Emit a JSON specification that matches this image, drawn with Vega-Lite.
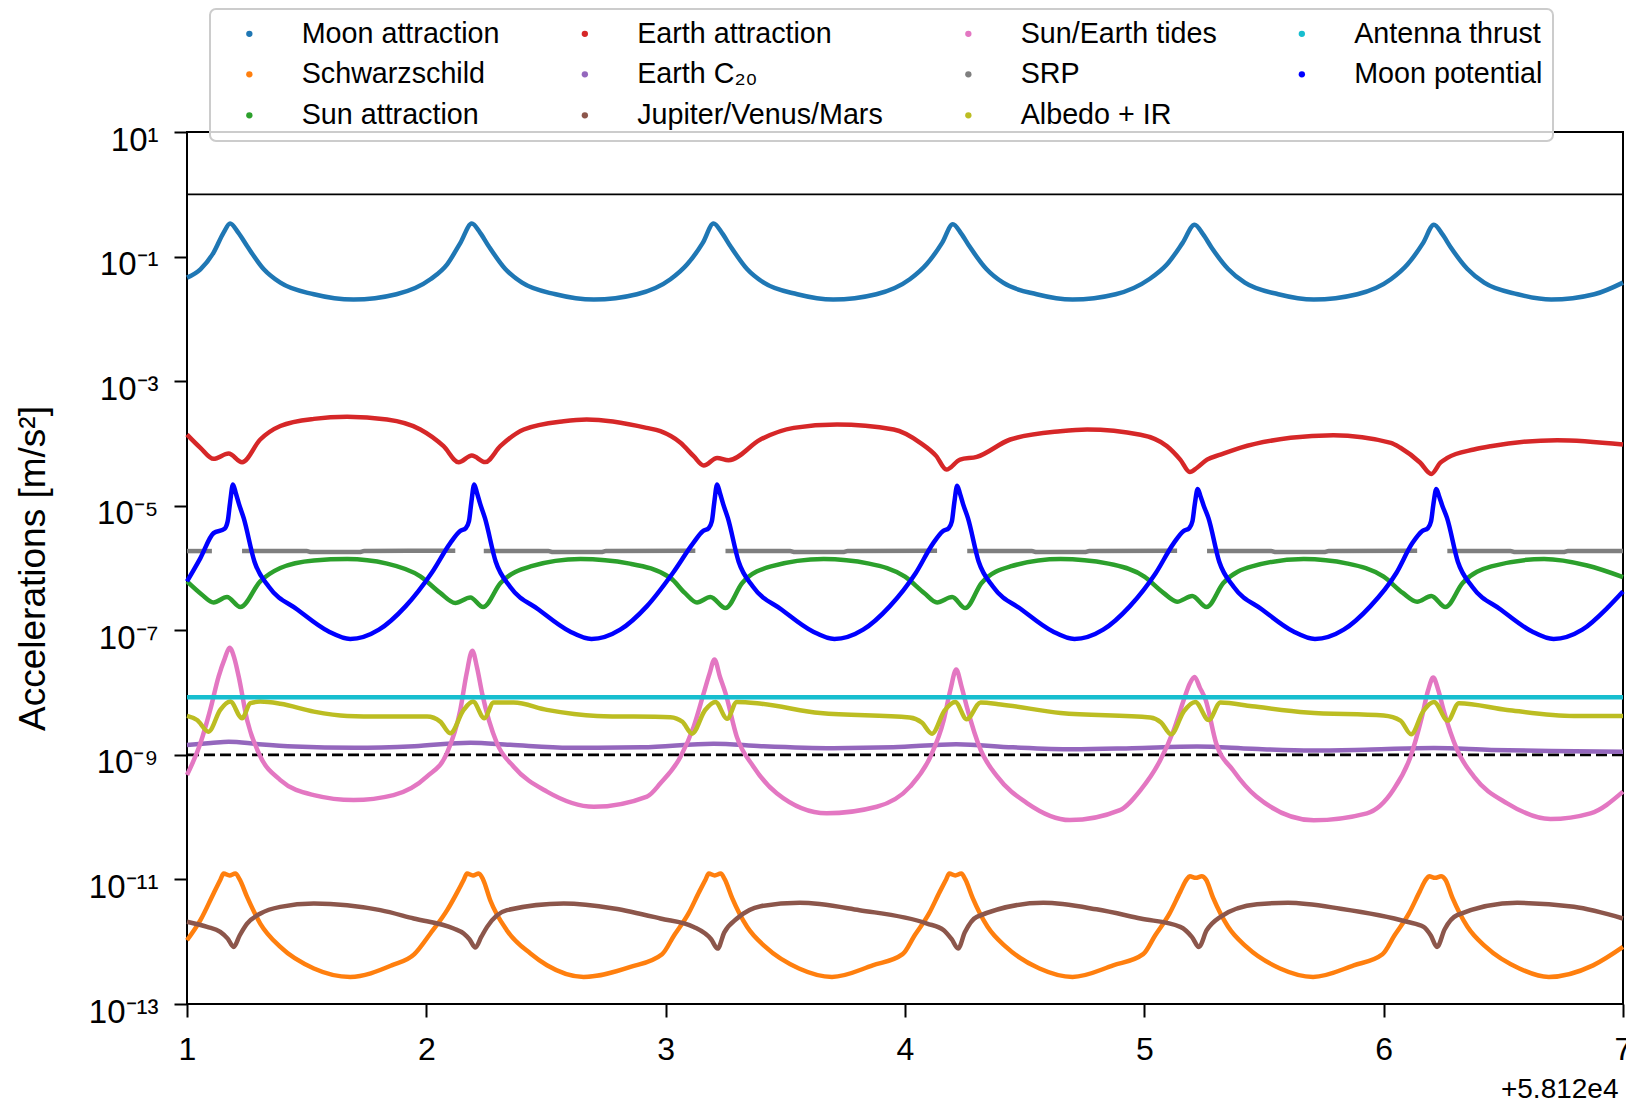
{
"$schema": "https://vega.github.io/schema/vega-lite/v6.json",
"width": 1436, "height": 872,
"autosize": {"type": "none"},
"padding": {"left": 187, "top": 132, "right": 3, "bottom": 100},
"background": "white",
"config": {"view": {"stroke": "black", "strokeWidth": 2}, "font": "Liberation Sans"},
"encoding": {
  "y": {"field": "y", "type": "quantitative",
    "scale": {"type": "log", "domain": [1e-13, 10], "nice": false},
    "axis": {"values": [10, 0.1, 0.001, 1e-5, 1e-7, 1e-9, 1e-11, 1e-13],
      "labelExpr": "['10⁻¹³','','10⁻¹¹','','10⁻⁹','','10⁻⁷','','10⁻⁵','','10⁻³','','10⁻¹','','10¹'][round(log(datum.value)/LN10)+13]",
      "title": "Accelerations [m/s²]", "titleFontSize": 37, "titleFontWeight": "normal", "titleColor": "black",
      "titleX": -143, "titleY": 436, "titleBaseline": "alphabetic", "titleAlign": "center", "titleAngle": -90,
      "labelFontSize": 33, "labelColor": "black", "labelBaseline": "alphabetic", "labelOffset": 18, "labelPadding": 16,
      "labelOverlap": false, "tickSize": 13, "tickWidth": 2, "tickColor": "black", "domain": false, "grid": false}}
},
"layer": [
  {"data": {"values": [{"y": 1}]}, "mark": {"type": "rule", "color": "black", "strokeWidth": 1.8}, "encoding": {}},
  {"data": {"values": [{"y": 1e-9}]}, "mark": {"type": "rule", "color": "black", "strokeWidth": 2.8, "strokeDash": [11, 5]}, "encoding": {}},
  {"data": {"values": [
{"s":"Moon attraction","x":1.0,"y":4.59e-2},{"s":"Moon attraction","x":1.056,"y":6.25e-2},{"s":"Moon attraction","x":1.111,"y":1.159e-1},{"s":"Moon attraction","x":1.153,"y":2.43e-1},{"s":"Moon attraction","x":1.18,"y":3.39e-1},{"s":"Moon attraction","x":1.215,"y":2.40e-1},{"s":"Moon attraction","x":1.251,"y":1.479e-1},{"s":"Moon attraction","x":1.32,"y":6.31e-2},{"s":"Moon attraction","x":1.39,"y":3.80e-2},{"s":"Moon attraction","x":1.53,"y":2.48e-2},{"s":"Moon attraction","x":1.696,"y":2.04e-2},{"s":"Moon attraction","x":1.875,"y":2.48e-2},{"s":"Moon attraction","x":2.017,"y":4.32e-2},{"s":"Moon attraction","x":2.087,"y":7.52e-2},{"s":"Moon attraction","x":2.143,"y":1.679e-1},{"s":"Moon attraction","x":2.19,"y":3.39e-1},{"s":"Moon attraction","x":2.225,"y":2.40e-1},{"s":"Moon attraction","x":2.26,"y":1.479e-1},{"s":"Moon attraction","x":2.33,"y":6.31e-2},{"s":"Moon attraction","x":2.40,"y":3.80e-2},{"s":"Moon attraction","x":2.54,"y":2.48e-2},{"s":"Moon attraction","x":2.70,"y":2.04e-2},{"s":"Moon attraction","x":2.88,"y":2.48e-2},{"s":"Moon attraction","x":3.02,"y":4.32e-2},{"s":"Moon attraction","x":3.09,"y":7.52e-2},{"s":"Moon attraction","x":3.155,"y":1.66e-1},{"s":"Moon attraction","x":3.20,"y":3.39e-1},{"s":"Moon attraction","x":3.235,"y":2.40e-1},{"s":"Moon attraction","x":3.27,"y":1.479e-1},{"s":"Moon attraction","x":3.34,"y":6.31e-2},{"s":"Moon attraction","x":3.41,"y":3.80e-2},{"s":"Moon attraction","x":3.55,"y":2.48e-2},{"s":"Moon attraction","x":3.70,"y":2.04e-2},{"s":"Moon attraction","x":3.88,"y":2.48e-2},{"s":"Moon attraction","x":4.02,"y":4.32e-2},{"s":"Moon attraction","x":4.09,"y":7.52e-2},{"s":"Moon attraction","x":4.155,"y":1.66e-1},{"s":"Moon attraction","x":4.20,"y":3.31e-1},{"s":"Moon attraction","x":4.235,"y":2.34e-1},{"s":"Moon attraction","x":4.27,"y":1.445e-1},{"s":"Moon attraction","x":4.34,"y":6.31e-2},{"s":"Moon attraction","x":4.41,"y":3.80e-2},{"s":"Moon attraction","x":4.55,"y":2.48e-2},{"s":"Moon attraction","x":4.70,"y":2.04e-2},{"s":"Moon attraction","x":4.88,"y":2.48e-2},{"s":"Moon attraction","x":5.02,"y":4.32e-2},{"s":"Moon attraction","x":5.095,"y":7.52e-2},{"s":"Moon attraction","x":5.16,"y":1.66e-1},{"s":"Moon attraction","x":5.21,"y":3.24e-1},{"s":"Moon attraction","x":5.245,"y":2.29e-1},{"s":"Moon attraction","x":5.28,"y":1.413e-1},{"s":"Moon attraction","x":5.35,"y":6.31e-2},{"s":"Moon attraction","x":5.42,"y":3.80e-2},{"s":"Moon attraction","x":5.56,"y":2.48e-2},{"s":"Moon attraction","x":5.708,"y":2.04e-2},{"s":"Moon attraction","x":5.89,"y":2.48e-2},{"s":"Moon attraction","x":6.03,"y":4.32e-2},{"s":"Moon attraction","x":6.10,"y":7.52e-2},{"s":"Moon attraction","x":6.165,"y":1.66e-1},{"s":"Moon attraction","x":6.21,"y":3.24e-1},{"s":"Moon attraction","x":6.245,"y":2.29e-1},{"s":"Moon attraction","x":6.28,"y":1.413e-1},{"s":"Moon attraction","x":6.35,"y":6.31e-2},{"s":"Moon attraction","x":6.42,"y":3.80e-2},{"s":"Moon attraction","x":6.56,"y":2.48e-2},{"s":"Moon attraction","x":6.70,"y":2.04e-2},{"s":"Moon attraction","x":6.88,"y":2.48e-2},{"s":"Moon attraction","x":7.0,"y":3.82e-2},
{"s":"Schwarzschild","x":1.0,"y":1.057e-12},{"s":"Schwarzschild","x":1.056,"y":2.22e-12},{"s":"Schwarzschild","x":1.111,"y":5.96e-12},{"s":"Schwarzschild","x":1.14,"y":1.0e-11},{"s":"Schwarzschild","x":1.153,"y":1.245e-11},{"s":"Schwarzschild","x":1.178,"y":1.161e-11},{"s":"Schwarzschild","x":1.202,"y":1.245e-11},{"s":"Schwarzschild","x":1.22,"y":1.0e-11},{"s":"Schwarzschild","x":1.251,"y":5.25e-12},{"s":"Schwarzschild","x":1.306,"y":1.959e-12},{"s":"Schwarzschild","x":1.39,"y":8.24e-13},{"s":"Schwarzschild","x":1.53,"y":3.72e-13},{"s":"Schwarzschild","x":1.682,"y":2.72e-13},{"s":"Schwarzschild","x":1.855,"y":4.17e-13},{"s":"Schwarzschild","x":1.95,"y":6.31e-13},{"s":"Schwarzschild","x":2.017,"y":1.355e-12},{"s":"Schwarzschild","x":2.087,"y":3.21e-12},{"s":"Schwarzschild","x":2.13,"y":6.31e-12},{"s":"Schwarzschild","x":2.157,"y":1.0e-11},{"s":"Schwarzschild","x":2.17,"y":1.245e-11},{"s":"Schwarzschild","x":2.195,"y":1.161e-11},{"s":"Schwarzschild","x":2.219,"y":1.245e-11},{"s":"Schwarzschild","x":2.237,"y":1.0e-11},{"s":"Schwarzschild","x":2.267,"y":4.64e-12},{"s":"Schwarzschild","x":2.336,"y":1.531e-12},{"s":"Schwarzschild","x":2.435,"y":6.46e-13},{"s":"Schwarzschild","x":2.504,"y":4.19e-13},{"s":"Schwarzschild","x":2.657,"y":2.72e-13},{"s":"Schwarzschild","x":2.853,"y":3.94e-13},{"s":"Schwarzschild","x":2.985,"y":6.31e-13},{"s":"Schwarzschild","x":3.035,"y":1.259e-12},{"s":"Schwarzschild","x":3.095,"y":2.82e-12},{"s":"Schwarzschild","x":3.14,"y":6.31e-12},{"s":"Schwarzschild","x":3.167,"y":1.0e-11},{"s":"Schwarzschild","x":3.18,"y":1.245e-11},{"s":"Schwarzschild","x":3.205,"y":1.161e-11},{"s":"Schwarzschild","x":3.23,"y":1.245e-11},{"s":"Schwarzschild","x":3.247,"y":1.0e-11},{"s":"Schwarzschild","x":3.278,"y":5.01e-12},{"s":"Schwarzschild","x":3.34,"y":1.738e-12},{"s":"Schwarzschild","x":3.417,"y":8.24e-13},{"s":"Schwarzschild","x":3.557,"y":3.72e-13},{"s":"Schwarzschild","x":3.695,"y":2.72e-13},{"s":"Schwarzschild","x":3.865,"y":4.17e-13},{"s":"Schwarzschild","x":3.99,"y":6.31e-13},{"s":"Schwarzschild","x":4.04,"y":1.259e-12},{"s":"Schwarzschild","x":4.10,"y":2.82e-12},{"s":"Schwarzschild","x":4.145,"y":6.31e-12},{"s":"Schwarzschild","x":4.172,"y":1.0e-11},{"s":"Schwarzschild","x":4.185,"y":1.245e-11},{"s":"Schwarzschild","x":4.21,"y":1.161e-11},{"s":"Schwarzschild","x":4.235,"y":1.245e-11},{"s":"Schwarzschild","x":4.252,"y":1.0e-11},{"s":"Schwarzschild","x":4.283,"y":5.01e-12},{"s":"Schwarzschild","x":4.345,"y":1.738e-12},{"s":"Schwarzschild","x":4.422,"y":8.24e-13},{"s":"Schwarzschild","x":4.562,"y":3.72e-13},{"s":"Schwarzschild","x":4.70,"y":2.72e-13},{"s":"Schwarzschild","x":4.87,"y":4.17e-13},{"s":"Schwarzschild","x":4.995,"y":6.31e-13},{"s":"Schwarzschild","x":5.045,"y":1.259e-12},{"s":"Schwarzschild","x":5.105,"y":2.82e-12},{"s":"Schwarzschild","x":5.15,"y":6.31e-12},{"s":"Schwarzschild","x":5.177,"y":1.0e-11},{"s":"Schwarzschild","x":5.19,"y":1.12e-11},{"s":"Schwarzschild","x":5.215,"y":1.06e-11},{"s":"Schwarzschild","x":5.24,"y":1.12e-11},{"s":"Schwarzschild","x":5.257,"y":1.0e-11},{"s":"Schwarzschild","x":5.288,"y":5.01e-12},{"s":"Schwarzschild","x":5.35,"y":1.738e-12},{"s":"Schwarzschild","x":5.427,"y":8.24e-13},{"s":"Schwarzschild","x":5.567,"y":3.72e-13},{"s":"Schwarzschild","x":5.705,"y":2.72e-13},{"s":"Schwarzschild","x":5.875,"y":4.17e-13},{"s":"Schwarzschild","x":5.995,"y":6.31e-13},{"s":"Schwarzschild","x":6.045,"y":1.259e-12},{"s":"Schwarzschild","x":6.105,"y":2.82e-12},{"s":"Schwarzschild","x":6.15,"y":6.31e-12},{"s":"Schwarzschild","x":6.177,"y":1.0e-11},{"s":"Schwarzschild","x":6.19,"y":1.12e-11},{"s":"Schwarzschild","x":6.215,"y":1.06e-11},{"s":"Schwarzschild","x":6.24,"y":1.12e-11},{"s":"Schwarzschild","x":6.257,"y":1.0e-11},{"s":"Schwarzschild","x":6.288,"y":5.01e-12},{"s":"Schwarzschild","x":6.35,"y":1.738e-12},{"s":"Schwarzschild","x":6.427,"y":8.24e-13},{"s":"Schwarzschild","x":6.567,"y":3.72e-13},{"s":"Schwarzschild","x":6.69,"y":2.72e-13},{"s":"Schwarzschild","x":6.875,"y":4.17e-13},{"s":"Schwarzschild","x":7.0,"y":8.24e-13},
{"s":"Sun attraction","x":1.0,"y":6.10e-7},{"s":"Sun attraction","x":1.06,"y":3.80e-7},{"s":"Sun attraction","x":1.111,"y":2.80e-7},{"s":"Sun attraction","x":1.167,"y":3.42e-7},{"s":"Sun attraction","x":1.223,"y":2.36e-7},{"s":"Sun attraction","x":1.306,"y":6.10e-7},{"s":"Sun attraction","x":1.39,"y":1.0e-6},{"s":"Sun attraction","x":1.53,"y":1.324e-6},{"s":"Sun attraction","x":1.67,"y":1.393e-6},{"s":"Sun attraction","x":1.836,"y":1.175e-6},{"s":"Sun attraction","x":1.975,"y":7.33e-7},{"s":"Sun attraction","x":2.058,"y":3.98e-7},{"s":"Sun attraction","x":2.121,"y":2.75e-7},{"s":"Sun attraction","x":2.184,"y":3.37e-7},{"s":"Sun attraction","x":2.237,"y":2.36e-7},{"s":"Sun attraction","x":2.31,"y":5.75e-7},{"s":"Sun attraction","x":2.435,"y":1.059e-6},{"s":"Sun attraction","x":2.644,"y":1.393e-6},{"s":"Sun attraction","x":2.85,"y":1.175e-6},{"s":"Sun attraction","x":3.02,"y":6.92e-7},{"s":"Sun attraction","x":3.08,"y":3.98e-7},{"s":"Sun attraction","x":3.131,"y":2.80e-7},{"s":"Sun attraction","x":3.187,"y":3.42e-7},{"s":"Sun attraction","x":3.25,"y":2.27e-7},{"s":"Sun attraction","x":3.32,"y":5.75e-7},{"s":"Sun attraction","x":3.44,"y":1.059e-6},{"s":"Sun attraction","x":3.66,"y":1.393e-6},{"s":"Sun attraction","x":3.85,"y":1.175e-6},{"s":"Sun attraction","x":4.0,"y":7.24e-7},{"s":"Sun attraction","x":4.08,"y":3.98e-7},{"s":"Sun attraction","x":4.134,"y":2.80e-7},{"s":"Sun attraction","x":4.197,"y":3.42e-7},{"s":"Sun attraction","x":4.252,"y":2.27e-7},{"s":"Sun attraction","x":4.32,"y":5.75e-7},{"s":"Sun attraction","x":4.44,"y":1.059e-6},{"s":"Sun attraction","x":4.65,"y":1.393e-6},{"s":"Sun attraction","x":4.85,"y":1.175e-6},{"s":"Sun attraction","x":5.0,"y":7.24e-7},{"s":"Sun attraction","x":5.08,"y":3.98e-7},{"s":"Sun attraction","x":5.137,"y":2.88e-7},{"s":"Sun attraction","x":5.20,"y":3.55e-7},{"s":"Sun attraction","x":5.26,"y":2.36e-7},{"s":"Sun attraction","x":5.33,"y":5.75e-7},{"s":"Sun attraction","x":5.45,"y":1.059e-6},{"s":"Sun attraction","x":5.666,"y":1.393e-6},{"s":"Sun attraction","x":5.85,"y":1.175e-6},{"s":"Sun attraction","x":6.0,"y":7.24e-7},{"s":"Sun attraction","x":6.08,"y":3.98e-7},{"s":"Sun attraction","x":6.14,"y":2.88e-7},{"s":"Sun attraction","x":6.199,"y":3.55e-7},{"s":"Sun attraction","x":6.258,"y":2.36e-7},{"s":"Sun attraction","x":6.33,"y":5.75e-7},{"s":"Sun attraction","x":6.45,"y":1.059e-6},{"s":"Sun attraction","x":6.67,"y":1.393e-6},{"s":"Sun attraction","x":6.85,"y":1.096e-6},{"s":"Sun attraction","x":7.0,"y":7.14e-7},
{"s":"Earth attraction","x":1.0,"y":1.39e-4},{"s":"Earth attraction","x":1.056,"y":8.51e-5},{"s":"Earth attraction","x":1.111,"y":5.65e-5},{"s":"Earth attraction","x":1.174,"y":6.89e-5},{"s":"Earth attraction","x":1.23,"y":4.99e-5},{"s":"Earth attraction","x":1.306,"y":1.156e-4},{"s":"Earth attraction","x":1.39,"y":1.905e-4},{"s":"Earth attraction","x":1.53,"y":2.48e-4},{"s":"Earth attraction","x":1.669,"y":2.67e-4},{"s":"Earth attraction","x":1.836,"y":2.42e-4},{"s":"Earth attraction","x":1.975,"y":1.675e-4},{"s":"Earth attraction","x":2.072,"y":9.02e-5},{"s":"Earth attraction","x":2.135,"y":4.99e-5},{"s":"Earth attraction","x":2.19,"y":6.38e-5},{"s":"Earth attraction","x":2.246,"y":5.01e-5},{"s":"Earth attraction","x":2.309,"y":9.02e-5},{"s":"Earth attraction","x":2.407,"y":1.675e-4},{"s":"Earth attraction","x":2.574,"y":2.275e-4},{"s":"Earth attraction","x":2.67,"y":2.42e-4},{"s":"Earth attraction","x":2.92,"y":1.778e-4},{"s":"Earth attraction","x":2.978,"y":1.57e-4},{"s":"Earth attraction","x":3.062,"y":1.023e-4},{"s":"Earth attraction","x":3.117,"y":6.24e-5},{"s":"Earth attraction","x":3.159,"y":4.42e-5},{"s":"Earth attraction","x":3.215,"y":5.86e-5},{"s":"Earth attraction","x":3.263,"y":5.37e-5},{"s":"Earth attraction","x":3.396,"y":1.156e-4},{"s":"Earth attraction","x":3.535,"y":1.778e-4},{"s":"Earth attraction","x":3.716,"y":2.01e-4},{"s":"Earth attraction","x":3.953,"y":1.675e-4},{"s":"Earth attraction","x":4.064,"y":1.023e-4},{"s":"Earth attraction","x":4.13,"y":6.31e-5},{"s":"Earth attraction","x":4.173,"y":3.80e-5},{"s":"Earth attraction","x":4.23,"y":5.50e-5},{"s":"Earth attraction","x":4.30,"y":6.08e-5},{"s":"Earth attraction","x":4.44,"y":1.156e-4},{"s":"Earth attraction","x":4.649,"y":1.57e-4},{"s":"Earth attraction","x":4.761,"y":1.675e-4},{"s":"Earth attraction","x":4.984,"y":1.38e-4},{"s":"Earth attraction","x":5.095,"y":9.02e-5},{"s":"Earth attraction","x":5.15,"y":5.50e-5},{"s":"Earth attraction","x":5.19,"y":3.47e-5},{"s":"Earth attraction","x":5.22,"y":4.07e-5},{"s":"Earth attraction","x":5.262,"y":5.50e-5},{"s":"Earth attraction","x":5.318,"y":6.61e-5},{"s":"Earth attraction","x":5.40,"y":8.51e-5},{"s":"Earth attraction","x":5.611,"y":1.23e-4},{"s":"Earth attraction","x":5.79,"y":1.355e-4},{"s":"Earth attraction","x":6.03,"y":1.023e-4},{"s":"Earth attraction","x":6.07,"y":8.51e-5},{"s":"Earth attraction","x":6.153,"y":4.90e-5},{"s":"Earth attraction","x":6.199,"y":3.24e-5},{"s":"Earth attraction","x":6.237,"y":4.90e-5},{"s":"Earth attraction","x":6.266,"y":5.86e-5},{"s":"Earth attraction","x":6.377,"y":7.98e-5},{"s":"Earth attraction","x":6.447,"y":9.02e-5},{"s":"Earth attraction","x":6.725,"y":1.125e-4},{"s":"Earth attraction","x":7.0,"y":9.59e-5},
{"s":"Earth C₂₀","x":1.0,"y":1.445e-9},{"s":"Earth C₂₀","x":1.10,"y":1.55e-9},{"s":"Earth C₂₀","x":1.174,"y":1.63e-9},{"s":"Earth C₂₀","x":1.30,"y":1.48e-9},{"s":"Earth C₂₀","x":1.45,"y":1.36e-9},{"s":"Earth C₂₀","x":1.7,"y":1.30e-9},{"s":"Earth C₂₀","x":1.95,"y":1.38e-9},{"s":"Earth C₂₀","x":2.184,"y":1.57e-9},{"s":"Earth C₂₀","x":2.35,"y":1.45e-9},{"s":"Earth C₂₀","x":2.6,"y":1.30e-9},{"s":"Earth C₂₀","x":2.9,"y":1.32e-9},{"s":"Earth C₂₀","x":3.2,"y":1.51e-9},{"s":"Earth C₂₀","x":3.4,"y":1.38e-9},{"s":"Earth C₂₀","x":3.7,"y":1.28e-9},{"s":"Earth C₂₀","x":3.95,"y":1.32e-9},{"s":"Earth C₂₀","x":4.214,"y":1.48e-9},{"s":"Earth C₂₀","x":4.45,"y":1.32e-9},{"s":"Earth C₂₀","x":4.7,"y":1.23e-9},{"s":"Earth C₂₀","x":4.95,"y":1.28e-9},{"s":"Earth C₂₀","x":5.22,"y":1.36e-9},{"s":"Earth C₂₀","x":5.45,"y":1.25e-9},{"s":"Earth C₂₀","x":5.7,"y":1.17e-9},{"s":"Earth C₂₀","x":5.95,"y":1.22e-9},{"s":"Earth C₂₀","x":6.21,"y":1.29e-9},{"s":"Earth C₂₀","x":6.45,"y":1.20e-9},{"s":"Earth C₂₀","x":6.7,"y":1.15e-9},{"s":"Earth C₂₀","x":7.0,"y":1.12e-9},
{"s":"Jupiter/Venus/Mars","x":1.0,"y":2.09e-12},{"s":"Jupiter/Venus/Mars","x":1.084,"y":1.73e-12},{"s":"Jupiter/Venus/Mars","x":1.139,"y":1.439e-12},{"s":"Jupiter/Venus/Mars","x":1.17,"y":1.122e-12},{"s":"Jupiter/Venus/Mars","x":1.195,"y":8.24e-13},{"s":"Jupiter/Venus/Mars","x":1.22,"y":1.259e-12},{"s":"Jupiter/Venus/Mars","x":1.251,"y":1.95e-12},{"s":"Jupiter/Venus/Mars","x":1.307,"y":2.84e-12},{"s":"Jupiter/Venus/Mars","x":1.39,"y":3.63e-12},{"s":"Jupiter/Venus/Mars","x":1.53,"y":4.11e-12},{"s":"Jupiter/Venus/Mars","x":1.669,"y":3.86e-12},{"s":"Jupiter/Venus/Mars","x":1.808,"y":3.21e-12},{"s":"Jupiter/Venus/Mars","x":1.947,"y":2.36e-12},{"s":"Jupiter/Venus/Mars","x":2.114,"y":1.63e-12},{"s":"Jupiter/Venus/Mars","x":2.156,"y":1.355e-12},{"s":"Jupiter/Venus/Mars","x":2.18,"y":1.096e-12},{"s":"Jupiter/Venus/Mars","x":2.205,"y":8.07e-13},{"s":"Jupiter/Venus/Mars","x":2.23,"y":1.202e-12},{"s":"Jupiter/Venus/Mars","x":2.254,"y":1.73e-12},{"s":"Jupiter/Venus/Mars","x":2.337,"y":3.21e-12},{"s":"Jupiter/Venus/Mars","x":2.574,"y":4.11e-12},{"s":"Jupiter/Venus/Mars","x":2.783,"y":3.42e-12},{"s":"Jupiter/Venus/Mars","x":2.978,"y":2.36e-12},{"s":"Jupiter/Venus/Mars","x":3.117,"y":1.73e-12},{"s":"Jupiter/Venus/Mars","x":3.19,"y":1.096e-12},{"s":"Jupiter/Venus/Mars","x":3.217,"y":7.76e-13},{"s":"Jupiter/Venus/Mars","x":3.245,"y":1.413e-12},{"s":"Jupiter/Venus/Mars","x":3.298,"y":2.36e-12},{"s":"Jupiter/Venus/Mars","x":3.397,"y":3.72e-12},{"s":"Jupiter/Venus/Mars","x":3.56,"y":4.21e-12},{"s":"Jupiter/Venus/Mars","x":3.81,"y":3.21e-12},{"s":"Jupiter/Venus/Mars","x":4.092,"y":1.96e-12},{"s":"Jupiter/Venus/Mars","x":4.162,"y":1.531e-12},{"s":"Jupiter/Venus/Mars","x":4.195,"y":1.096e-12},{"s":"Jupiter/Venus/Mars","x":4.222,"y":7.76e-13},{"s":"Jupiter/Venus/Mars","x":4.25,"y":1.413e-12},{"s":"Jupiter/Venus/Mars","x":4.30,"y":2.51e-12},{"s":"Jupiter/Venus/Mars","x":4.578,"y":4.21e-12},{"s":"Jupiter/Venus/Mars","x":4.80,"y":3.31e-12},{"s":"Jupiter/Venus/Mars","x":4.984,"y":2.36e-12},{"s":"Jupiter/Venus/Mars","x":5.15,"y":1.73e-12},{"s":"Jupiter/Venus/Mars","x":5.20,"y":1.175e-12},{"s":"Jupiter/Venus/Mars","x":5.228,"y":8.24e-13},{"s":"Jupiter/Venus/Mars","x":5.26,"y":1.514e-12},{"s":"Jupiter/Venus/Mars","x":5.318,"y":2.51e-12},{"s":"Jupiter/Venus/Mars","x":5.471,"y":3.98e-12},{"s":"Jupiter/Venus/Mars","x":5.60,"y":4.21e-12},{"s":"Jupiter/Venus/Mars","x":5.82,"y":3.39e-12},{"s":"Jupiter/Venus/Mars","x":6.098,"y":2.09e-12},{"s":"Jupiter/Venus/Mars","x":6.167,"y":1.73e-12},{"s":"Jupiter/Venus/Mars","x":6.197,"y":1.259e-12},{"s":"Jupiter/Venus/Mars","x":6.223,"y":8.24e-13},{"s":"Jupiter/Venus/Mars","x":6.255,"y":1.585e-12},{"s":"Jupiter/Venus/Mars","x":6.307,"y":2.67e-12},{"s":"Jupiter/Venus/Mars","x":6.558,"y":4.21e-12},{"s":"Jupiter/Venus/Mars","x":6.795,"y":3.63e-12},{"s":"Jupiter/Venus/Mars","x":7.0,"y":2.36e-12},
{"s":"Sun/Earth tides","x":1.0,"y":4.75e-10},{"s":"Sun/Earth tides","x":1.056,"y":1.535e-9},{"s":"Sun/Earth tides","x":1.097,"y":5.27e-9},{"s":"Sun/Earth tides","x":1.132,"y":1.807e-8},{"s":"Sun/Earth tides","x":1.158,"y":3.55e-8},{"s":"Sun/Earth tides","x":1.178,"y":5.25e-8},{"s":"Sun/Earth tides","x":1.198,"y":3.55e-8},{"s":"Sun/Earth tides","x":1.216,"y":1.807e-8},{"s":"Sun/Earth tides","x":1.251,"y":3.64e-9},{"s":"Sun/Earth tides","x":1.307,"y":9.35e-10},{"s":"Sun/Earth tides","x":1.39,"y":3.94e-10},{"s":"Sun/Earth tides","x":1.53,"y":2.26e-10},{"s":"Sun/Earth tides","x":1.696,"y":1.884e-10},{"s":"Sun/Earth tides","x":1.863,"y":2.26e-10},{"s":"Sun/Earth tides","x":2.002,"y":4.47e-10},{"s":"Sun/Earth tides","x":2.086,"y":1.062e-9},{"s":"Sun/Earth tides","x":2.142,"y":5.27e-9},{"s":"Sun/Earth tides","x":2.168,"y":1.995e-8},{"s":"Sun/Earth tides","x":2.192,"y":4.68e-8},{"s":"Sun/Earth tides","x":2.212,"y":2.51e-8},{"s":"Sun/Earth tides","x":2.233,"y":9.77e-9},{"s":"Sun/Earth tides","x":2.295,"y":1.535e-9},{"s":"Sun/Earth tides","x":2.365,"y":6.46e-10},{"s":"Sun/Earth tides","x":2.504,"y":2.57e-10},{"s":"Sun/Earth tides","x":2.70,"y":1.469e-10},{"s":"Sun/Earth tides","x":2.922,"y":2.14e-10},{"s":"Sun/Earth tides","x":2.978,"y":3.49e-10},{"s":"Sun/Earth tides","x":3.062,"y":9.33e-10},{"s":"Sun/Earth tides","x":3.117,"y":2.84e-9},{"s":"Sun/Earth tides","x":3.159,"y":9.77e-9},{"s":"Sun/Earth tides","x":3.183,"y":1.995e-8},{"s":"Sun/Earth tides","x":3.204,"y":3.39e-8},{"s":"Sun/Earth tides","x":3.227,"y":1.778e-8},{"s":"Sun/Earth tides","x":3.25,"y":9.77e-9},{"s":"Sun/Earth tides","x":3.297,"y":1.963e-9},{"s":"Sun/Earth tides","x":3.367,"y":6.46e-10},{"s":"Sun/Earth tides","x":3.464,"y":2.415e-10},{"s":"Sun/Earth tides","x":3.673,"y":1.151e-10},{"s":"Sun/Earth tides","x":3.882,"y":1.469e-10},{"s":"Sun/Earth tides","x":4.021,"y":3.09e-10},{"s":"Sun/Earth tides","x":4.106,"y":9.33e-10},{"s":"Sun/Earth tides","x":4.162,"y":3.63e-9},{"s":"Sun/Earth tides","x":4.19,"y":1.122e-8},{"s":"Sun/Earth tides","x":4.214,"y":2.34e-8},{"s":"Sun/Earth tides","x":4.236,"y":1.259e-8},{"s":"Sun/Earth tides","x":4.258,"y":5.96e-9},{"s":"Sun/Earth tides","x":4.316,"y":1.202e-9},{"s":"Sun/Earth tides","x":4.386,"y":4.47e-10},{"s":"Sun/Earth tides","x":4.511,"y":1.667e-10},{"s":"Sun/Earth tides","x":4.689,"y":8.97e-11},{"s":"Sun/Earth tides","x":4.898,"y":1.30e-10},{"s":"Sun/Earth tides","x":4.984,"y":2.72e-10},{"s":"Sun/Earth tides","x":5.067,"y":8.26e-10},{"s":"Sun/Earth tides","x":5.123,"y":2.51e-9},{"s":"Sun/Earth tides","x":5.165,"y":7.64e-9},{"s":"Sun/Earth tides","x":5.19,"y":1.4e-8},{"s":"Sun/Earth tides","x":5.21,"y":1.778e-8},{"s":"Sun/Earth tides","x":5.232,"y":1.2e-8},{"s":"Sun/Earth tides","x":5.256,"y":7.64e-9},{"s":"Sun/Earth tides","x":5.30,"y":1.535e-9},{"s":"Sun/Earth tides","x":5.37,"y":5.71e-10},{"s":"Sun/Earth tides","x":5.468,"y":2.14e-10},{"s":"Sun/Earth tides","x":5.708,"y":8.91e-11},{"s":"Sun/Earth tides","x":5.93,"y":1.151e-10},{"s":"Sun/Earth tides","x":6.04,"y":2.72e-10},{"s":"Sun/Earth tides","x":6.112,"y":9.33e-10},{"s":"Sun/Earth tides","x":6.16,"y":4.11e-9},{"s":"Sun/Earth tides","x":6.186,"y":1.1e-8},{"s":"Sun/Earth tides","x":6.207,"y":1.738e-8},{"s":"Sun/Earth tides","x":6.228,"y":1.1e-8},{"s":"Sun/Earth tides","x":6.25,"y":5.27e-9},{"s":"Sun/Earth tides","x":6.307,"y":1.202e-9},{"s":"Sun/Earth tides","x":6.377,"y":4.47e-10},{"s":"Sun/Earth tides","x":6.516,"y":1.667e-10},{"s":"Sun/Earth tides","x":6.697,"y":9.33e-11},{"s":"Sun/Earth tides","x":6.864,"y":1.151e-10},{"s":"Sun/Earth tides","x":7.0,"y":2.57e-10},
{"s":"SRP","g":"a","x":1.0,"y":1.87e-6},{"s":"SRP","g":"a","x":1.104,"y":1.87e-6},
{"s":"SRP","g":"b","x":1.23,"y":1.87e-6},{"s":"SRP","g":"b","x":1.50,"y":1.87e-6},{"s":"SRP","g":"b","x":1.52,"y":1.80e-6},{"s":"SRP","g":"b","x":1.72,"y":1.80e-6},{"s":"SRP","g":"b","x":1.74,"y":1.87e-6},{"s":"SRP","g":"b","x":2.121,"y":1.90e-6},
{"s":"SRP","g":"c","x":2.24,"y":1.87e-6},{"s":"SRP","g":"c","x":2.51,"y":1.87e-6},{"s":"SRP","g":"c","x":2.53,"y":1.80e-6},{"s":"SRP","g":"c","x":2.73,"y":1.80e-6},{"s":"SRP","g":"c","x":2.75,"y":1.87e-6},{"s":"SRP","g":"c","x":3.124,"y":1.90e-6},
{"s":"SRP","g":"d","x":3.25,"y":1.87e-6},{"s":"SRP","g":"d","x":3.52,"y":1.87e-6},{"s":"SRP","g":"d","x":3.54,"y":1.80e-6},{"s":"SRP","g":"d","x":3.74,"y":1.80e-6},{"s":"SRP","g":"d","x":3.76,"y":1.87e-6},{"s":"SRP","g":"d","x":4.134,"y":1.90e-6},
{"s":"SRP","g":"e","x":4.26,"y":1.87e-6},{"s":"SRP","g":"e","x":4.53,"y":1.87e-6},{"s":"SRP","g":"e","x":4.55,"y":1.80e-6},{"s":"SRP","g":"e","x":4.75,"y":1.80e-6},{"s":"SRP","g":"e","x":4.77,"y":1.87e-6},{"s":"SRP","g":"e","x":5.137,"y":1.90e-6},
{"s":"SRP","g":"f","x":5.262,"y":1.87e-6},{"s":"SRP","g":"f","x":5.53,"y":1.87e-6},{"s":"SRP","g":"f","x":5.55,"y":1.80e-6},{"s":"SRP","g":"f","x":5.75,"y":1.80e-6},{"s":"SRP","g":"f","x":5.77,"y":1.87e-6},{"s":"SRP","g":"f","x":6.14,"y":1.90e-6},
{"s":"SRP","g":"h","x":6.266,"y":1.87e-6},{"s":"SRP","g":"h","x":6.53,"y":1.87e-6},{"s":"SRP","g":"h","x":6.55,"y":1.80e-6},{"s":"SRP","g":"h","x":6.75,"y":1.80e-6},{"s":"SRP","g":"h","x":6.77,"y":1.87e-6},{"s":"SRP","g":"h","x":7.0,"y":1.88e-6},
{"s":"Albedo + IR","x":1.0,"y":4.22e-9},{"s":"Albedo + IR","x":1.042,"y":3.63e-9},{"s":"Albedo + IR","x":1.09,"y":2.36e-9},{"s":"Albedo + IR","x":1.139,"y":5.27e-9},{"s":"Albedo + IR","x":1.181,"y":7.16e-9},{"s":"Albedo + IR","x":1.23,"y":3.87e-9},{"s":"Albedo + IR","x":1.265,"y":6.76e-9},{"s":"Albedo + IR","x":1.306,"y":7.16e-9},{"s":"Albedo + IR","x":1.39,"y":6.61e-9},{"s":"Albedo + IR","x":1.53,"y":4.95e-9},{"s":"Albedo + IR","x":1.669,"y":4.22e-9},{"s":"Albedo + IR","x":1.808,"y":4.11e-9},{"s":"Albedo + IR","x":2.003,"y":4.11e-9},{"s":"Albedo + IR","x":2.058,"y":3.42e-9},{"s":"Albedo + IR","x":2.10,"y":2.22e-9},{"s":"Albedo + IR","x":2.156,"y":5.27e-9},{"s":"Albedo + IR","x":2.195,"y":7.16e-9},{"s":"Albedo + IR","x":2.242,"y":3.87e-9},{"s":"Albedo + IR","x":2.281,"y":6.92e-9},{"s":"Albedo + IR","x":2.365,"y":6.92e-9},{"s":"Albedo + IR","x":2.504,"y":5.27e-9},{"s":"Albedo + IR","x":2.713,"y":4.22e-9},{"s":"Albedo + IR","x":3.02,"y":4.02e-9},{"s":"Albedo + IR","x":3.07,"y":3.39e-9},{"s":"Albedo + IR","x":3.11,"y":2.19e-9},{"s":"Albedo + IR","x":3.165,"y":5.25e-9},{"s":"Albedo + IR","x":3.208,"y":7.08e-9},{"s":"Albedo + IR","x":3.257,"y":3.80e-9},{"s":"Albedo + IR","x":3.297,"y":7.08e-9},{"s":"Albedo + IR","x":3.40,"y":6.61e-9},{"s":"Albedo + IR","x":3.646,"y":4.68e-9},{"s":"Albedo + IR","x":4.02,"y":3.98e-9},{"s":"Albedo + IR","x":4.07,"y":3.31e-9},{"s":"Albedo + IR","x":4.113,"y":2.19e-9},{"s":"Albedo + IR","x":4.165,"y":5.13e-9},{"s":"Albedo + IR","x":4.21,"y":7.08e-9},{"s":"Albedo + IR","x":4.258,"y":3.72e-9},{"s":"Albedo + IR","x":4.316,"y":6.92e-9},{"s":"Albedo + IR","x":4.40,"y":6.46e-9},{"s":"Albedo + IR","x":4.65,"y":4.68e-9},{"s":"Albedo + IR","x":5.025,"y":3.98e-9},{"s":"Albedo + IR","x":5.07,"y":3.31e-9},{"s":"Albedo + IR","x":5.112,"y":2.14e-9},{"s":"Albedo + IR","x":5.165,"y":5.01e-9},{"s":"Albedo + IR","x":5.213,"y":7.08e-9},{"s":"Albedo + IR","x":5.269,"y":3.63e-9},{"s":"Albedo + IR","x":5.318,"y":6.92e-9},{"s":"Albedo + IR","x":5.45,"y":6.03e-9},{"s":"Albedo + IR","x":5.68,"y":4.79e-9},{"s":"Albedo + IR","x":6.0,"y":4.27e-9},{"s":"Albedo + IR","x":6.07,"y":3.55e-9},{"s":"Albedo + IR","x":6.115,"y":2.14e-9},{"s":"Albedo + IR","x":6.165,"y":5.01e-9},{"s":"Albedo + IR","x":6.21,"y":7.08e-9},{"s":"Albedo + IR","x":6.268,"y":3.55e-9},{"s":"Albedo + IR","x":6.314,"y":6.76e-9},{"s":"Albedo + IR","x":6.516,"y":5.27e-9},{"s":"Albedo + IR","x":6.795,"y":4.22e-9},{"s":"Albedo + IR","x":7.0,"y":4.22e-9},
{"s":"Antenna thrust","x":1.0,"y":8.43e-9},{"s":"Antenna thrust","x":7.0,"y":8.43e-9},
{"s":"Moon potential","x":1.0,"y":6.10e-7},{"s":"Moon potential","x":1.056,"y":1.445e-6},{"s":"Moon potential","x":1.111,"y":3.63e-6},{"s":"Moon potential","x":1.157,"y":4.27e-6},{"s":"Moon potential","x":1.170,"y":5.62e-6},{"s":"Moon potential","x":1.180,"y":1.122e-5},{"s":"Moon potential","x":1.192,"y":2.19e-5},{"s":"Moon potential","x":1.204,"y":1.585e-5},{"s":"Moon potential","x":1.217,"y":1.07e-5},{"s":"Moon potential","x":1.237,"y":6.31e-6},{"s":"Moon potential","x":1.282,"y":1.259e-6},{"s":"Moon potential","x":1.342,"y":5.01e-7},{"s":"Moon potential","x":1.462,"y":2.14e-7},{"s":"Moon potential","x":1.592,"y":9.55e-8},{"s":"Moon potential","x":1.682,"y":7.24e-8},{"s":"Moon potential","x":1.802,"y":1.023e-7},{"s":"Moon potential","x":1.912,"y":2.40e-7},{"s":"Moon potential","x":2.022,"y":8.32e-7},{"s":"Moon potential","x":2.100,"y":2.51e-6},{"s":"Moon potential","x":2.140,"y":3.89e-6},{"s":"Moon potential","x":2.165,"y":4.37e-6},{"s":"Moon potential","x":2.178,"y":5.62e-6},{"s":"Moon potential","x":2.188,"y":1.122e-5},{"s":"Moon potential","x":2.200,"y":2.19e-5},{"s":"Moon potential","x":2.212,"y":1.585e-5},{"s":"Moon potential","x":2.225,"y":1.07e-5},{"s":"Moon potential","x":2.245,"y":6.31e-6},{"s":"Moon potential","x":2.290,"y":1.259e-6},{"s":"Moon potential","x":2.350,"y":5.01e-7},{"s":"Moon potential","x":2.470,"y":2.14e-7},{"s":"Moon potential","x":2.600,"y":9.55e-8},{"s":"Moon potential","x":2.690,"y":7.24e-8},{"s":"Moon potential","x":2.810,"y":1.023e-7},{"s":"Moon potential","x":2.920,"y":2.40e-7},{"s":"Moon potential","x":3.030,"y":8.32e-7},{"s":"Moon potential","x":3.115,"y":2.51e-6},{"s":"Moon potential","x":3.155,"y":3.89e-6},{"s":"Moon potential","x":3.180,"y":4.37e-6},{"s":"Moon potential","x":3.193,"y":5.62e-6},{"s":"Moon potential","x":3.203,"y":1.122e-5},{"s":"Moon potential","x":3.215,"y":2.19e-5},{"s":"Moon potential","x":3.227,"y":1.585e-5},{"s":"Moon potential","x":3.240,"y":1.07e-5},{"s":"Moon potential","x":3.260,"y":6.31e-6},{"s":"Moon potential","x":3.305,"y":1.259e-6},{"s":"Moon potential","x":3.365,"y":5.01e-7},{"s":"Moon potential","x":3.485,"y":2.14e-7},{"s":"Moon potential","x":3.615,"y":9.55e-8},{"s":"Moon potential","x":3.705,"y":7.24e-8},{"s":"Moon potential","x":3.825,"y":1.023e-7},{"s":"Moon potential","x":3.935,"y":2.40e-7},{"s":"Moon potential","x":4.045,"y":8.32e-7},{"s":"Moon potential","x":4.118,"y":2.51e-6},{"s":"Moon potential","x":4.158,"y":3.89e-6},{"s":"Moon potential","x":4.183,"y":4.37e-6},{"s":"Moon potential","x":4.196,"y":5.62e-6},{"s":"Moon potential","x":4.206,"y":1.122e-5},{"s":"Moon potential","x":4.218,"y":2.09e-5},{"s":"Moon potential","x":4.230,"y":1.55e-5},{"s":"Moon potential","x":4.243,"y":1.05e-5},{"s":"Moon potential","x":4.263,"y":6.31e-6},{"s":"Moon potential","x":4.308,"y":1.259e-6},{"s":"Moon potential","x":4.368,"y":5.01e-7},{"s":"Moon potential","x":4.488,"y":2.14e-7},{"s":"Moon potential","x":4.618,"y":9.55e-8},{"s":"Moon potential","x":4.708,"y":7.24e-8},{"s":"Moon potential","x":4.828,"y":1.023e-7},{"s":"Moon potential","x":4.938,"y":2.40e-7},{"s":"Moon potential","x":5.048,"y":8.32e-7},{"s":"Moon potential","x":5.123,"y":2.51e-6},{"s":"Moon potential","x":5.163,"y":3.89e-6},{"s":"Moon potential","x":5.188,"y":4.37e-6},{"s":"Moon potential","x":5.201,"y":5.62e-6},{"s":"Moon potential","x":5.211,"y":1.07e-5},{"s":"Moon potential","x":5.223,"y":1.86e-5},{"s":"Moon potential","x":5.235,"y":1.41e-5},{"s":"Moon potential","x":5.248,"y":1.0e-5},{"s":"Moon potential","x":5.268,"y":6.31e-6},{"s":"Moon potential","x":5.313,"y":1.259e-6},{"s":"Moon potential","x":5.373,"y":5.01e-7},{"s":"Moon potential","x":5.493,"y":2.14e-7},{"s":"Moon potential","x":5.623,"y":9.55e-8},{"s":"Moon potential","x":5.713,"y":7.24e-8},{"s":"Moon potential","x":5.833,"y":1.023e-7},{"s":"Moon potential","x":5.943,"y":2.40e-7},{"s":"Moon potential","x":6.053,"y":8.32e-7},{"s":"Moon potential","x":6.120,"y":2.51e-6},{"s":"Moon potential","x":6.160,"y":3.89e-6},{"s":"Moon potential","x":6.185,"y":4.37e-6},{"s":"Moon potential","x":6.198,"y":5.62e-6},{"s":"Moon potential","x":6.208,"y":1.07e-5},{"s":"Moon potential","x":6.220,"y":1.86e-5},{"s":"Moon potential","x":6.232,"y":1.41e-5},{"s":"Moon potential","x":6.245,"y":1.0e-5},{"s":"Moon potential","x":6.265,"y":6.31e-6},{"s":"Moon potential","x":6.310,"y":1.259e-6},{"s":"Moon potential","x":6.370,"y":5.01e-7},{"s":"Moon potential","x":6.490,"y":2.14e-7},{"s":"Moon potential","x":6.620,"y":9.55e-8},{"s":"Moon potential","x":6.710,"y":7.24e-8},{"s":"Moon potential","x":6.830,"y":1.023e-7},{"s":"Moon potential","x":6.940,"y":2.40e-7},{"s":"Moon potential","x":7.0,"y":4.2e-7}
  ]},
  "mark": {"type": "line", "strokeWidth": 4.5, "interpolate": "monotone"},
  "encoding": {
    "x": {"field": "x", "type": "quantitative",
      "scale": {"domain": [1, 7], "nice": false, "zero": false},
      "axis": {"values": [1, 2, 3, 4, 5, 6, 7], "format": "d", "labelFontSize": 32, "labelColor": "black", "labelPadding": 17,
        "labelFlush": false, "labelOverlap": false, "tickSize": 13, "tickWidth": 2, "tickColor": "black", "domain": false, "grid": false,
        "title": "+5.812e4", "titleFontSize": 28, "titleFontWeight": "normal", "titleColor": "black",
        "titleX": 1431, "titleY": 93, "titleAlign": "right", "titleBaseline": "alphabetic"}},
    "color": {"field": "s", "type": "nominal",
      "scale": {"domain": ["Moon attraction", "Schwarzschild", "Sun attraction", "Earth attraction", "Earth C₂₀", "Jupiter/Venus/Mars", "Sun/Earth tides", "SRP", "Albedo + IR", "Antenna thrust", "Moon potential"],
        "range": ["#1f77b4", "#ff7f0e", "#2ca02c", "#d62728", "#9467bd", "#8c564b", "#e377c2", "#7f7f7f", "#bcbd22", "#17becf", "#0000ff"]},
      "legend": {"orient": "none", "legendX": 23, "legendY": -123, "columns": 4, "title": null,
        "labelFontSize": 28.7, "labelColor": "black", "labelLimit": 500,
        "symbolType": "circle", "symbolSize": 40, "symbolStrokeWidth": 0, "symbolOffset": 15, "labelOffset": 38,
        "columnPadding": 55.5, "rowPadding": 11, "padding": 10,
        "strokeColor": "#cccccc", "fillColor": "rgba(255,255,255,0.8)", "cornerRadius": 6,
        "encode": {"symbols": {"update": {"fill": {"scale": "color", "field": "value"}, "fillOpacity": {"value": 1}, "strokeWidth": {"value": 0}}},
                   "legend": {"update": {"strokeWidth": {"value": 2}}}}}},
    "detail": {"field": "g", "type": "nominal"}
  }}
]
}
